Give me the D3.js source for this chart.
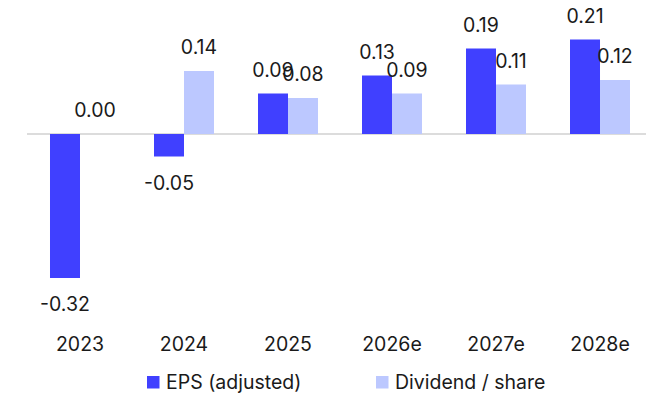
<!DOCTYPE html>
<html>
<head>
<meta charset="utf-8">
<script src="https://cdn.jsdelivr.net/npm/d3@7"></script>
<style>
  html, body { margin: 0; padding: 0; background: #fff; }
  svg { display: block; font-family: Inter, "Noto Sans", sans-serif; }
</style>
</head>
<body>
<svg id="chart" width="646" height="395"></svg>
<script>
// Per-share figures by year (e = estimate)
const years = ["2023", "2024", "2025", "2026e", "2027e", "2028e"];
const epsAdjusted = [-0.32, -0.05, 0.09, 0.13, 0.19, 0.21];
const dividendPerShare = [0.00, 0.14, 0.08, 0.09, 0.11, 0.12];
const seriesNames = ["EPS (adjusted)", "Dividend / share"];
const seriesColors = ["#4040ff", "#bcc8ff"];

const svg = d3.select("#chart");

const x = d3.scaleBand()
  .domain(years)
  .range([28, 652])
  .paddingInner(0.4231)
  .paddingOuter(0.2115);

const xSeries = d3.scaleBand()
  .domain([0, 1])
  .range([0, x.bandwidth()]);

const y = d3.scaleLinear()
  .domain([-0.35, 0.25])
  .range([134 + 0.35 * 450, 134 - 0.25 * 450]);

// zero baseline
svg.append("line")
  .attr("x1", 27).attr("x2", 646)
  .attr("y1", y(0)).attr("y2", y(0))
  .attr("stroke", "#dcdcdc")
  .attr("stroke-width", 2);

const series = [epsAdjusted, dividendPerShare];

series.forEach((values, si) => {
  const g = svg.append("g");
  const rows = years.map((yr, i) => ({ yr, v: values[i] }));

  g.selectAll("rect")
    .data(rows)
    .join("rect")
    .attr("x", d => x(d.yr) + xSeries(si))
    .attr("width", xSeries.bandwidth())
    .attr("y", d => y(Math.max(0, d.v)))
    .attr("height", d => Math.abs(y(d.v) - y(0)))
    .attr("fill", seriesColors[si]);

  g.selectAll("text")
    .data(rows)
    .join("text")
    .attr("x", d => x(d.yr) + xSeries(si) + xSeries.bandwidth() / 2)
    .attr("y", d => d.v < 0 ? y(d.v) + 33 : y(d.v) - 17)
    .attr("text-anchor", "middle")
    .attr("font-size", 19.5)
    .attr("fill", "#1a1a1a")
    .text(d => d3.format(".2f")(d.v).replace("−", "-"));
});

// category axis labels
const xAxis = svg.append("g")
  .attr("transform", "translate(0,351)")
  .call(d3.axisBottom(x).tickSize(0).tickPadding(0));
xAxis.select(".domain").remove();
xAxis.selectAll("text")
  .attr("dy", 0)
  .attr("font-size", 19.5)
  .attr("font-family", "Inter, 'Noto Sans', sans-serif")
  .attr("fill", "#1a1a1a");

// legend
const legendX = [147, 376];
seriesNames.forEach((name, i) => {
  const lg = svg.append("g").attr("transform", `translate(${legendX[i]},376)`);
  lg.append("rect")
    .attr("width", 12.5).attr("height", 12.5)
    .attr("fill", seriesColors[i]);
  lg.append("text")
    .attr("x", 19).attr("y", 13)
    .attr("font-size", 19.5)
    .attr("fill", "#1a1a1a")
    .text(name);
});
</script>
</body>
</html>
